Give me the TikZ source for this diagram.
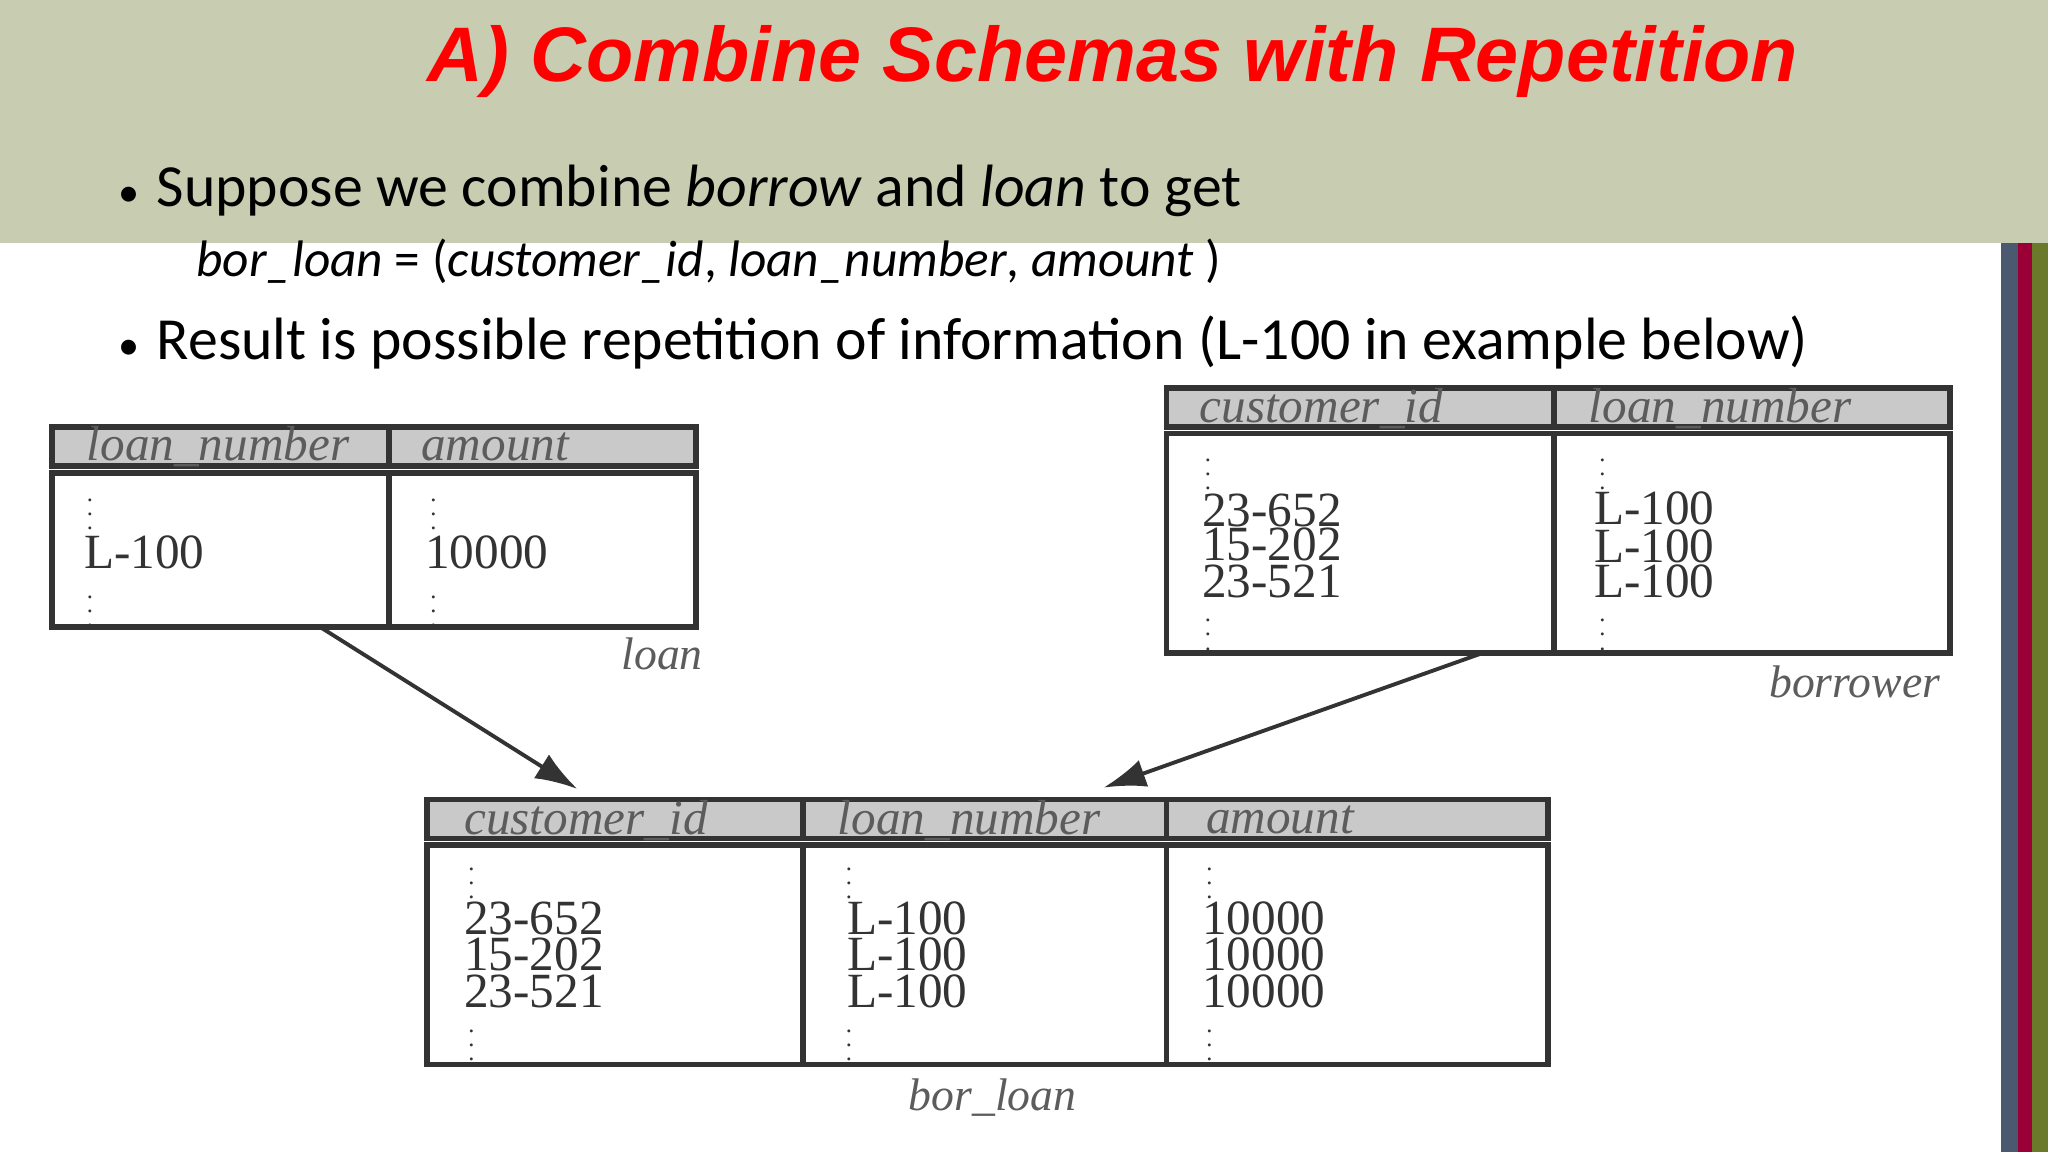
\documentclass[tikz,border=0pt]{standalone}
\usepackage{fontspec}
\setmainfont{Liberation Serif}
\newfontfamily\titlefont{Liberation Sans}
\newfontfamily\bodyfont{Carlito}
\usetikzlibrary{arrows.meta}
\definecolor{band}{HTML}{C8CCB0}
\definecolor{barA}{HTML}{4A5870}
\definecolor{barB}{HTML}{9A0036}
\definecolor{barC}{HTML}{6B7A2A}
\definecolor{hdr}{HTML}{C9C9C9}
\definecolor{ink}{HTML}{333333}
\tikzset{
  hcell/.style={draw=ink,line width=1.6pt,fill=hdr},
  bcell/.style={draw=ink,line width=1.6pt},
  htext/.style={anchor=west,font=\itshape\fontsize{14}{14}\selectfont,text=ink!80,inner sep=0pt},
  ctext/.style={anchor=west,font=\fontsize{14}{14}\selectfont,text=ink,inner sep=0pt},
  dots/.style={anchor=west,font=\fontsize{7}{7}\selectfont,text=ink,inner sep=0pt},
  tcaption/.style={font=\itshape\fontsize{13}{13}\selectfont,text=ink!80},
  arr/.style={-{Latex[length=12pt,width=8pt]},line width=1.1pt,draw=ink}
}
\begin{document}
\begin{tikzpicture}[x=0.013061cm,y=-0.013061cm]
\useasboundingbox (0,0) rectangle (1568,882);
\fill[white] (0,0) rectangle (1568,882);
\fill[band] (0,0) rectangle (1568,186);
\fill[barA] (1532,186) rectangle (1545,882);
\fill[barB] (1545,186) rectangle (1556,882);
\fill[barC] (1556,186) rectangle (1568,882);
\node (title) at (852,47) {\titlefont\bfseries\itshape\color{red}\fontsize{22}{22}\selectfont A) Combine Schemas with Repetition};
\node[anchor=west,inner sep=0pt] (b1) at (90,146) {\bodyfont\fontsize{17}{17}\selectfont {\fontsize{12}{12}\selectfont •}\hspace{5pt}Suppose we combine \textit{borrow} and \textit{loan} to get};
\node[anchor=west,inner sep=0pt] (b2) at (150,200) {\bodyfont\fontsize{14.6}{14.6}\selectfont \textit{bor\_loan} = (\textit{customer\_id}, \textit{loan\_number}, \textit{amount} )};
\node[anchor=west,inner sep=0pt] (b3) at (90,262) {\bodyfont\fontsize{17}{17}\selectfont {\fontsize{12}{12}\selectfont •}\hspace{5pt}Result is possible repetition of information (L-100 in example below)};
% loan table
\draw[hcell] (40,327) rectangle (298,357);
\draw[hcell] (298,327) rectangle (533,357);
\draw[bcell] (40,362) rectangle (298,480);
\draw[bcell] (298,362) rectangle (533,480);
\node[htext] (lh1) at (66,342) {loan\_number};
\node[htext] (lh2) at (322,342) {amount};
\node[dots] (ld1) at (66,386) {\vdots};
\node[ctext] (lc1) at (64,423) {L-100};
\node[dots] (ld2) at (66,460) {\vdots};
\node[dots] (ld3) at (329,386) {\vdots};
\node[ctext] (lc2) at (325,423) {10000};
\node[dots] (ld4) at (329,460) {\vdots};
\node[tcaption] (lcap) at (507,501) {loan};
\coordinate (lout) at (245,480);
% borrower table
\draw[hcell] (893,297) rectangle (1190,327);
\draw[hcell] (1190,297) rectangle (1493,327);
\draw[bcell] (893,332) rectangle (1190,500);
\draw[bcell] (1190,332) rectangle (1493,500);
\node[htext] (bh1) at (918,313) {customer\_id};
\node[htext] (bh2) at (1216,313) {loan\_number};
\node[dots] (bd1) at (922,355) {\vdots};
\node[ctext] (bc1) at (920,391) {23-652};
\node[ctext] (bc2) at (920,417) {15-202};
\node[ctext] (bc3) at (920,445) {23-521};
\node[dots] (bd2) at (922,478) {\vdots};
\node[dots] (bd3) at (1224,355) {\vdots};
\node[ctext] (bc4) at (1220,389) {L-100};
\node[ctext] (bc5) at (1220,418) {L-100};
\node[ctext] (bc6) at (1220,445) {L-100};
\node[dots] (bd4) at (1224,478) {\vdots};
\node[tcaption] (bcap) at (1420,522) {borrower};
\coordinate (bout) at (1135,500);
% bor_loan table
\draw[hcell] (327,612) rectangle (615,642);
\draw[hcell] (615,612) rectangle (893,642);
\draw[hcell] (893,612) rectangle (1185,642);
\draw[bcell] (327,647) rectangle (615,815);
\draw[bcell] (615,647) rectangle (893,815);
\draw[bcell] (893,647) rectangle (1185,815);
\node[htext] (rh1) at (355,628) {customer\_id};
\node[htext] (rh2) at (641,628) {loan\_number};
\node[htext] (rh3) at (923,628) {amount};
\node[dots] (rd1) at (358,668) {\vdots};
\node[ctext] (rc1) at (355,703) {23-652};
\node[ctext] (rc2) at (355,731) {15-202};
\node[ctext] (rc3) at (355,759) {23-521};
\node[dots] (rd2) at (358,792) {\vdots};
\node[dots] (rd3) at (647,668) {\vdots};
\node[ctext] (rc4) at (648,703) {L-100};
\node[ctext] (rc5) at (648,731) {L-100};
\node[ctext] (rc6) at (648,759) {L-100};
\node[dots] (rd4) at (647,792) {\vdots};
\node[dots] (rd5) at (923,668) {\vdots};
\node[ctext] (rc7) at (920,703) {10000};
\node[ctext] (rc8) at (920,731) {10000};
\node[ctext] (rc9) at (920,759) {10000};
\node[dots] (rd6) at (923,792) {\vdots};
\node[tcaption] (rcap) at (760,840) {bor\_loan};
\coordinate (rin1) at (442,604);
\coordinate (rin2) at (845,603);
\draw[arr] (lout) -- (rin1);
\draw[arr] (bout) -- (rin2);
\end{tikzpicture}
\end{document}
